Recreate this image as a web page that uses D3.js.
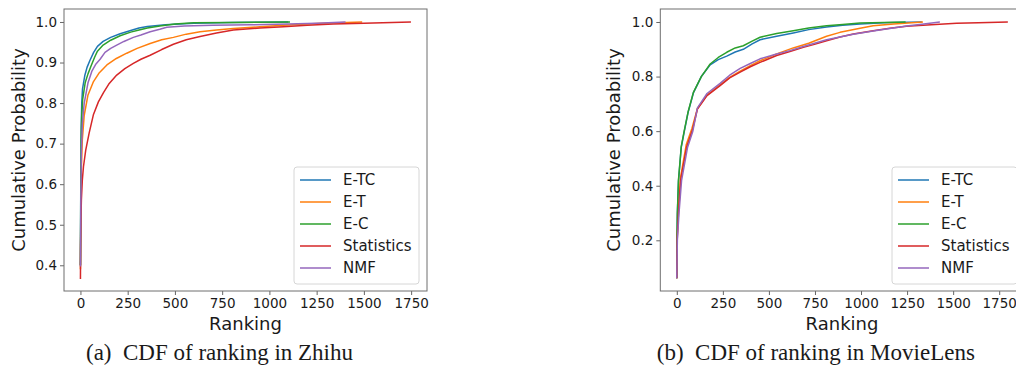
<!DOCTYPE html>
<html>
<head>
<meta charset="utf-8">
<script src="https://cdn.jsdelivr.net/npm/d3@7"></script>
<style>
  body { margin: 0; background: #fff; }
  svg { display: block; }
  text { font-family: "DejaVu Sans", sans-serif; fill: #1a1a1a; }
  .caption { font-family: "Liberation Serif", "Times New Roman", serif; }
</style>
</head>
<body>
<div id="chart"></div>
<script>
// series names and colours (matplotlib defaults)
const seriesNames = ['E-TC', 'E-T', 'E-C', 'Statistics', 'NMF'];
const seriesColors = ['#1f77b4', '#ff7f0e', '#2ca02c', '#d62728', '#9467bd'];

// Zhihu: ranking vs cumulative probability
const zhihuETC = [[0,0.40],[2,0.62],[4,0.74],[7,0.80],[11,0.835],[23,0.868],[35,0.888],[50,0.905],[70,0.925],[90,0.94],[120,0.952],[160,0.962],[210,0.971],[266,0.979],[310,0.985],[354,0.989],[450,0.993],[600,0.997],[800,0.999],[1100,1.0]];
const zhihuET = [[0,0.39],[2,0.52],[5,0.64],[10,0.71],[20,0.77],[40,0.82],[69,0.853],[100,0.875],[140,0.894],[190,0.91],[245,0.923],[300,0.935],[369,0.947],[430,0.956],[492,0.962],[560,0.97],[633,0.976],[720,0.98],[809,0.984],[950,0.988],[1074,0.992],[1250,0.996],[1491,1.0]];
const zhihuEC = [[0,0.40],[2,0.60],[4,0.71],[7,0.77],[12,0.81],[25,0.85],[40,0.872],[55,0.89],[75,0.913],[90,0.928],[120,0.943],[160,0.955],[210,0.966],[266,0.975],[310,0.98],[354,0.985],[420,0.99],[500,0.995],[600,0.998],[800,0.999],[1109,1.0]];
const zhihuStat = [[0,0.366],[1,0.45],[3,0.52],[5,0.561],[10,0.61],[16,0.643],[28,0.684],[46,0.726],[69,0.772],[95,0.803],[122,0.826],[150,0.847],[192,0.869],[235,0.885],[280,0.898],[320,0.908],[369,0.918],[430,0.932],[492,0.945],[560,0.956],[633,0.964],[720,0.973],[809,0.98],[950,0.985],[1074,0.988],[1200,0.992],[1338,0.995],[1500,0.997],[1749,1.0]];
const zhihuNMF = [[0,0.397],[2,0.55],[5,0.68],[10,0.75],[20,0.80],[40,0.85],[60,0.878],[80,0.895],[104,0.908],[130,0.925],[160,0.935],[192,0.943],[230,0.952],[280,0.962],[320,0.968],[369,0.976],[420,0.982],[457,0.987],[550,0.99],[700,0.992],[900,0.993],[1100,0.995],[1250,0.997],[1403,1.0]];

// MovieLens
const movieETC = [[0,0.061],[1,0.2],[3,0.295],[9,0.415],[24,0.54],[41,0.6],[61,0.668],[90,0.74],[133,0.8],[181,0.843],[225,0.862],[271,0.875],[317,0.89],[361,0.9],[409,0.92],[452,0.935],[542,0.948],[632,0.96],[716,0.972],[813,0.982],[900,0.988],[995,0.993],[1125,0.997],[1330,1.0]];
const movieET = [[0,0.061],[2,0.21],[8,0.3],[20,0.43],[51,0.55],[82,0.61],[112,0.683],[164,0.732],[235,0.77],[287,0.797],[344,0.82],[399,0.84],[452,0.858],[542,0.883],[632,0.905],[716,0.922],[813,0.948],[886,0.962],[995,0.977],[1066,0.986],[1177,0.993],[1336,1.0]];
const movieEC = [[0,0.061],[1,0.2],[3,0.299],[9,0.421],[24,0.543],[41,0.604],[61,0.67],[90,0.742],[133,0.8],[181,0.846],[225,0.87],[271,0.889],[317,0.905],[361,0.913],[409,0.93],[452,0.944],[542,0.958],[632,0.968],[716,0.978],[813,0.986],[900,0.991],[995,0.996],[1125,0.998],[1242,1.0]];
const movieStat = [[0,0.061],[2,0.2],[9,0.299],[21,0.421],[54,0.543],[85,0.604],[112,0.681],[164,0.73],[235,0.767],[287,0.795],[344,0.816],[399,0.836],[452,0.852],[542,0.877],[614,0.892],[687,0.907],[747,0.918],[813,0.931],[886,0.945],[958,0.956],[1066,0.968],[1156,0.977],[1247,0.984],[1381,0.99],[1519,0.995],[1637,0.997],[1797,1.0]];
const movieNMF = [[0,0.061],[3,0.2],[12,0.3],[26,0.42],[58,0.54],[87,0.6],[112,0.685],[164,0.738],[235,0.775],[287,0.805],[344,0.83],[399,0.848],[452,0.865],[542,0.883],[614,0.895],[687,0.91],[813,0.935],[958,0.955],[1066,0.967],[1156,0.976],[1247,0.985],[1330,0.992],[1428,1.0]];

const xTicks = [0, 250, 500, 750, 1000, 1250, 1500, 1750];
const zhihuYTicks = [0.4, 0.5, 0.6, 0.7, 0.8, 0.9, 1.0];
const movieYTicks = [0.2, 0.4, 0.6, 0.8, 1.0];

const panels = [
  { left: 64, right: 427, xDomain: [-87, 1834], yDomain: [0.3366, 1.032], yTicks: zhihuYTicks,
    series: [zhihuETC, zhihuET, zhihuEC, zhihuStat, zhihuNMF],
    ylabelX: 24.5, legendX: 294, caption: '(a)\u2002CDF of ranking in Zhihu', captionX: 219.5 },
  { left: 660.3, right: 1023.7, xDomain: [-89.6, 1883], yDomain: [0.0142, 1.0476], yTicks: movieYTicks,
    series: [movieETC, movieET, movieEC, movieStat, movieNMF],
    ylabelX: 619.5, legendX: 892, caption: '(b)\u2002CDF of ranking in MovieLens', captionX: 815.8 }
];

const width = 1016, height = 366;
const plotTop = 9, plotBottom = 291;

const svg = d3.select('#chart').append('svg')
  .attr('width', width).attr('height', height);

panels.forEach((p, i) => {
  const x = d3.scaleLinear().domain(p.xDomain).range([p.left, p.right]);
  const y = d3.scaleLinear().domain(p.yDomain).range([plotBottom, plotTop]);

  const g = svg.append('g');

  g.append('clipPath').attr('id', 'clip' + i)
    .append('rect').attr('x', p.left).attr('y', plotTop)
    .attr('width', p.right - p.left).attr('height', plotBottom - plotTop);

  const line = d3.line().x(d => x(d[0])).y(d => y(d[1]));

  g.append('g').attr('clip-path', `url(#clip${i})`)
    .selectAll('path')
    .data(p.series)
    .join('path')
    .attr('d', line)
    .attr('fill', 'none')
    .attr('stroke', (d, j) => seriesColors[j])
    .attr('stroke-width', 1.5)
    .attr('stroke-linejoin', 'round');

  // axes
  const xAxis = g.append('g').attr('transform', `translate(0,${plotBottom})`)
    .call(d3.axisBottom(x).tickValues(xTicks).tickSize(4).tickPadding(3).tickFormat(d3.format('d')));
  const yAxis = g.append('g').attr('transform', `translate(${p.left},0)`)
    .call(d3.axisLeft(y).tickValues(p.yTicks).tickSize(4).tickPadding(3).tickFormat(d3.format('.1f')));
  [xAxis, yAxis].forEach(a => {
    a.select('.domain').remove();
    a.selectAll('line').attr('stroke', '#666');
    a.selectAll('text').attr('font-size', 13.5).attr('font-family', 'DejaVu Sans').attr('fill', '#1a1a1a');
  });

  // frame
  g.append('rect')
    .attr('x', p.left).attr('y', plotTop)
    .attr('width', p.right - p.left).attr('height', plotBottom - plotTop)
    .attr('fill', 'none').attr('stroke', '#6e6e6e').attr('stroke-width', 1);

  g.append('text')
    .attr('x', (p.left + p.right) / 2).attr('y', 329.5)
    .attr('text-anchor', 'middle').attr('font-size', 18)
    .text('Ranking');

  g.append('text')
    .attr('transform', `translate(${p.ylabelX},${(plotTop + plotBottom) / 2}) rotate(-90)`)
    .attr('text-anchor', 'middle').attr('font-size', 18)
    .text('Cumulative Probability');

  // legend
  const lg = g.append('g').attr('transform', `translate(${p.legendX},167)`);
  lg.append('rect')
    .attr('width', 125).attr('height', 117).attr('rx', 3)
    .attr('fill', '#fff').attr('fill-opacity', 0.8)
    .attr('stroke', '#d6d6d6').attr('stroke-width', 1);
  seriesNames.forEach((name, j) => {
    const yy = 13 + j * 22;
    lg.append('line')
      .attr('x1', 6).attr('x2', 37).attr('y1', yy).attr('y2', yy)
      .attr('stroke', seriesColors[j]).attr('stroke-width', 1.5);
    lg.append('text')
      .attr('x', 49).attr('y', yy).attr('dy', '0.36em')
      .attr('font-size', 15)
      .text(name);
  });

  svg.append('text').attr('class', 'caption')
    .attr('x', p.captionX).attr('y', 359.5)
    .attr('text-anchor', 'middle').attr('font-size', 23)
    .text(p.caption);
});
</script>
</body>
</html>
